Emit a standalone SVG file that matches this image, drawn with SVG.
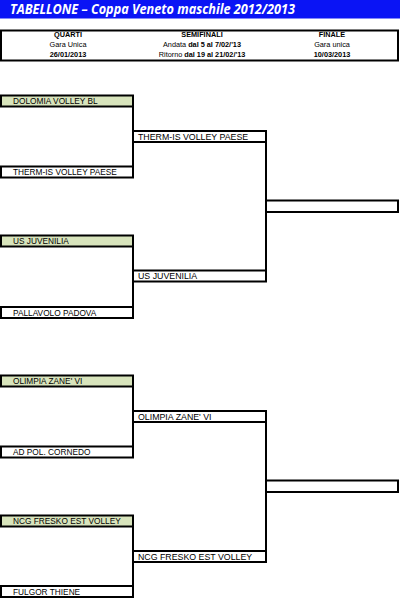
<svg xmlns="http://www.w3.org/2000/svg" width="400" height="598" viewBox="0 0 400 598">
<style>
.hdr{font-family:"Liberation Sans",Arial,sans-serif;font-size:7.3px;fill:#000;text-anchor:middle}
.b{font-weight:bold}
.box{fill:#fff;stroke:#000;stroke-width:2}
.win{fill:#d8e4bc;stroke:#000;stroke-width:2}
.q{font-family:"Liberation Sans",Arial,sans-serif;font-size:8.3px;fill:#000}
.s{font-family:"Liberation Sans",Arial,sans-serif;font-size:8.8px;fill:#000}
.ln{stroke:#000;stroke-width:2;fill:none}
</style>
<rect width="400" height="598" fill="#fff"/>
<g id="title">
<rect x="0" y="0" width="400" height="18.5" fill="#0a14f5"/>
<text x="10" y="14" font-family="'Open Sans','Liberation Sans',sans-serif" font-size="14" font-weight="bold" font-style="italic" fill="#fff" textLength="285" lengthAdjust="spacingAndGlyphs">TABELLONE – Coppa Veneto maschile 2012/2013</text>
</g>
<g id="header">
<rect x="1" y="30.5" width="397" height="30" fill="#fff" stroke="#000" stroke-width="2"/>
<text class="hdr b" x="68" y="37">QUARTI</text>
<text class="hdr" x="68" y="47">Gara Unica</text>
<text class="hdr b" x="68" y="57">26/01/2013</text>
<text class="hdr b" x="202" y="37">SEMIFINALI</text>
<text class="hdr" x="202" y="47">Andata  <tspan class="b">dal 5 al 7/02/'13</tspan></text>
<text class="hdr" x="202" y="57">Ritorno <tspan class="b">dal 19 al 21/02/'13</tspan></text>
<text class="hdr b" x="332" y="37">FINALE</text>
<text class="hdr" x="332" y="47">Gara unica</text>
<text class="hdr b" x="332" y="57">10/03/2013</text>
</g>
<g id="connectors">
<path class="ln" d="M133 106 V167 M266 141 V271 M133 246 V308 M133 386 V447 M266 421 V551 M133 526 V588"/>
</g>
<g id="q1"><rect class="win" x="1" y="95.5" width="132" height="11"/><text class="q" x="13" y="104">DOLOMIA VOLLEY BL</text></g>
<g id="q2"><rect class="box" x="1" y="166.5" width="132" height="11"/><text class="q" x="13" y="175">THERM-IS VOLLEY PAESE</text></g>
<g id="q3"><rect class="win" x="1" y="235.5" width="132" height="11"/><text class="q" x="13" y="244">US JUVENILIA</text></g>
<g id="q4"><rect class="box" x="1" y="307" width="132" height="11"/><text class="q" x="13" y="315.5">PALLAVOLO PADOVA</text></g>
<g id="q5"><rect class="win" x="1" y="375.5" width="132" height="11"/><text class="q" x="13" y="384">OLIMPIA ZANE' VI</text></g>
<g id="q6"><rect class="box" x="1" y="446.5" width="132" height="11"/><text class="q" x="13" y="455">AD POL. CORNEDO</text></g>
<g id="q7"><rect class="win" x="1" y="515.5" width="132" height="11"/><text class="q" x="13" y="524">NCG FRESKO EST VOLLEY</text></g>
<g id="q8"><rect class="box" x="1" y="586" width="132" height="11"/><text class="q" x="13" y="594.5">FULGOR THIENE</text></g>
<g id="s1"><rect class="box" x="133" y="131" width="133" height="11"/><text class="s" x="138" y="139.8">THERM-IS VOLLEY PAESE</text></g>
<g id="s2"><rect class="box" x="133" y="270.5" width="133" height="11"/><text class="s" x="138" y="279.3">US JUVENILIA</text></g>
<g id="s3"><rect class="box" x="133" y="411" width="133" height="11"/><text class="s" x="138" y="419.8">OLIMPIA ZANE' VI</text></g>
<g id="s4"><rect class="box" x="133" y="551" width="133" height="11"/><text class="s" x="138" y="559.8">NCG FRESKO EST VOLLEY</text></g>
<g id="f1"><rect class="box" x="266" y="200.5" width="132" height="11.5"/></g>
<g id="f2"><rect class="box" x="266" y="480.5" width="132" height="11.5"/></g>
</svg>
